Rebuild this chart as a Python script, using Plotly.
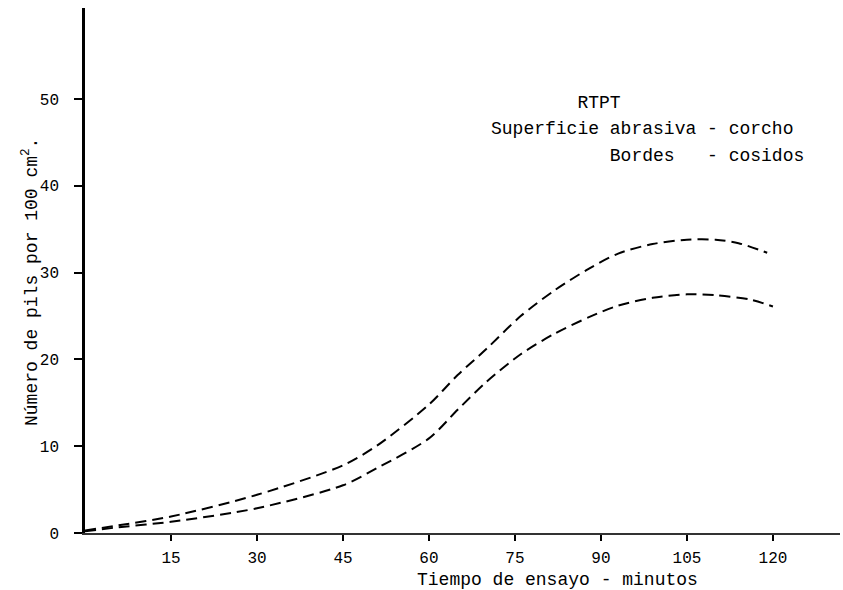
import plotly.graph_objects as go

# Data
x_upper = [0, 5, 15, 30, 45, 51, 60, 65, 70, 76, 82, 88, 93, 99, 105, 110, 114, 119]
y_upper = [0.3, 0.8, 1.9, 4.4, 7.8, 10.1, 14.8, 18.2, 21.2, 25.0, 28.0, 30.5, 32.2, 33.3, 33.8, 33.8, 33.4, 32.3]

x_lower = [0, 5, 15, 30, 45, 51, 60, 65, 70, 76, 82, 88, 93, 99, 105, 110, 116, 120]
y_lower = [0.2, 0.6, 1.3, 2.85, 5.5, 7.5, 10.9, 14.2, 17.4, 20.6, 23.0, 24.9, 26.2, 27.1, 27.5, 27.4, 26.9, 26.1]

x_ticks = [15, 30, 45, 60, 75, 90, 105, 120]
y_ticks = [0, 10, 20, 30, 40, 50]

title_lines = ["RTPT", "Superficie abrasiva - corcho", "Bordes   - cosidos"]

FONT = "Liberation Mono, DejaVu Sans Mono, monospace"

fig = go.Figure()
for xs, ys in [(x_upper, y_upper), (x_lower, y_lower)]:
    fig.add_trace(go.Scatter(
        x=xs, y=ys, mode="lines",
        line=dict(color="black", width=2, dash="11px,6px", shape="spline", smoothing=0.8),
        showlegend=False, hoverinfo="skip",
    ))

fig.update_layout(
    width=843, height=590,
    margin=dict(l=85, r=3, t=8, b=57),
    paper_bgcolor="white", plot_bgcolor="white",
    font=dict(family=FONT, color="black", size=16),
    xaxis=dict(
        range=[0, 131.7], tickvals=x_ticks, ticktext=[str(v) for v in x_ticks],
        showgrid=False, zeroline=False, showline=True, linecolor="#333", linewidth=1.5,
        ticks="outside", ticklen=6, tickwidth=1.5, tickcolor="black",
        ticklabelstandoff=3, tickfont=dict(size=16, family=FONT),
    ),
    yaxis=dict(
        range=[0, 60.5], tickvals=y_ticks, ticktext=[str(v) for v in y_ticks],
        showgrid=False, zeroline=False, showline=True, linecolor="black", linewidth=2.5,
        ticks="outside", ticklen=8, tickwidth=1.5, tickcolor="black",
        ticklabelstandoff=12, tickfont=dict(size=16, family=FONT),
    ),
)

nb = "\u00a0"
line_texts = [
    nb * 8 + title_lines[0],
    title_lines[1].replace(" ", nb),
    nb * 11 + title_lines[2].replace(" ", nb),
]
for txt, yy in zip(line_texts, [103, 129, 156]):
    fig.add_annotation(
        text=txt, xref="paper", yref="paper",
        x=(489 - 85) / 755, y=(533 - yy) / 525,
        xanchor="left", yanchor="middle", showarrow=False,
        font=dict(size=18, family=FONT, color="black"),
    )

fig.add_annotation(
    text="Tiempo de ensayo - minutos", xref="paper", yref="paper",
    x=(557 - 85) / 755, y=(533 - 580) / 525,
    xanchor="center", yanchor="middle", showarrow=False,
    font=dict(size=18, family=FONT, color="black"),
)
fig.add_annotation(
    text="Número de pils por 100 cm<sup>2</sup>.", xref="paper", yref="paper",
    x=(30 - 85) / 755, y=(533 - 282) / 525, textangle=-90,
    xanchor="center", yanchor="middle", showarrow=False,
    font=dict(size=18, family=FONT, color="black"),
)

fig.write_html("out.html", config={"displayModeBar": False},
               post_script="document.body.style.margin='0';")
